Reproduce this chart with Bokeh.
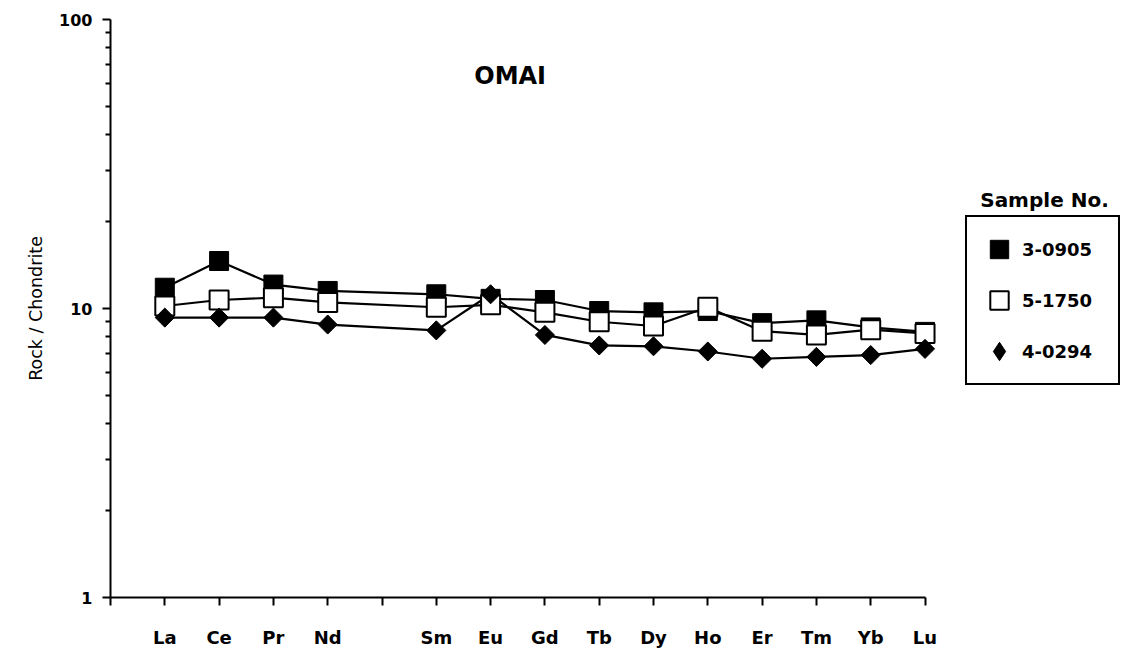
import numpy as np
from bokeh.plotting import figure
from bokeh.models import (Range1d, FixedTicker, CustomJSTickFormatter, BasicTickFormatter,
                          Legend, LegendItem, Label)
from bokeh.embed import file_html
from bokeh.resources import INLINE

# ---- data -------------------------------------------------------------
# axis slots (Pm position left empty, as in the original diagram)
slots = ["La", "Ce", "Pr", "Nd", "", "Sm", "Eu", "Gd", "Tb", "Dy", "Ho", "Er", "Tm", "Yb", "Lu"]
elements = ["La", "Ce", "Pr", "Nd", "Sm", "Eu", "Gd", "Tb", "Dy", "Ho", "Er", "Tm", "Yb", "Lu"]

s_3_0905 = [11.8, 14.6, 12.1, 11.5, 11.2, 10.8, 10.7, 9.8, 9.7, 9.8, 8.9, 9.1, 8.6, 8.3]
s_5_1750 = [10.2, 10.7, 10.9, 10.5, 10.1, 10.3, 9.7, 9.0, 8.7, 10.1, 8.35, 8.1, 8.45, 8.2]
s_4_0294 = [9.3, 9.3, 9.3, 8.8, 8.4, 11.2, 8.1, 7.45, 7.4, 7.1, 6.7, 6.8, 6.9, 7.25]

sample_names = ["3-0905", "5-1750", "4-0294"]
y_major = [1, 10, 100]
title_text = "OMAI"
y_label = "Rock / Chondrite"
legend_title = "Sample No."

xpos = [slots.index(e) + 1 for e in elements]

FONT = "DejaVu Sans"

p = figure(width=1120, height=650, x_range=Range1d(0, 18.6), y_range=Range1d(1, 100),
           y_axis_type="log", output_backend="svg", toolbar_location=None, title=None,
           min_border_left=110, min_border_right=0, min_border_top=19, min_border_bottom=52)

p.outline_line_color = None
p.xgrid.visible = False
p.ygrid.visible = False
p.background_fill_color = "white"
p.border_fill_color = "white"

# ---- lines -------------------------------------------------------------
for ys in (s_3_0905, s_5_1750, s_4_0294):
    p.line(xpos, ys, line_color="black", line_width=2.2)

# ---- markers -----------------------------------------------------------
r1 = p.scatter(xpos, s_3_0905, marker="square", size=19, fill_color="black",
               line_color="black", line_width=1)
r2 = p.scatter(xpos, s_5_1750, marker="square", size=19, fill_color="white",
               line_color="black", line_width=2)
r3 = p.scatter(xpos, s_4_0294, marker="square", angle=np.pi / 4, size=13.5,
               fill_color="black", line_color="black", line_width=1)
# legend swatch for the diamond series (legend swatches ignore rotation)
r3_key = p.scatter(xpos, s_4_0294, marker="diamond", size=19, fill_color="black",
                   line_color="black", line_width=1, visible=False)

# ---- axes --------------------------------------------------------------
xa = p.xaxis[0]
xa.ticker = FixedTicker(ticks=list(range(0, len(slots) + 1)))
xa.formatter = CustomJSTickFormatter(args=dict(names=slots), code="""
    const i = Math.round(tick);
    return (i >= 1 && i <= names.length) ? names[i-1] : '';
""")
xa.bounds = (0, len(slots))
xa.axis_line_width = 2
xa.major_tick_line_width = 2
xa.major_tick_out = 8
xa.major_tick_in = 0
xa.minor_tick_line_color = None
xa.major_label_standoff = 21
xa.major_label_text_font = FONT
xa.major_label_text_font_style = "bold"
xa.major_label_text_font_size = "18px"
xa.major_label_text_color = "black"

ya = p.yaxis[0]
ya.ticker = FixedTicker(ticks=y_major,
                        minor_ticks=[k * 10 ** d for d in (0, 1) for k in range(2, 10)])
ya.formatter = BasicTickFormatter()
ya.axis_line_width = 2
ya.major_tick_line_width = 2
ya.minor_tick_line_width = 2
ya.major_tick_out = 8
ya.major_tick_in = 0
ya.minor_tick_out = 5
ya.minor_tick_in = 0
ya.major_label_standoff = 10
ya.major_label_text_font = FONT
ya.major_label_text_font_style = "bold"
ya.major_label_text_font_size = "16px"
ya.major_label_text_color = "black"
ya.axis_label = y_label
ya.axis_label_text_font = FONT
ya.axis_label_text_font_style = "normal"
ya.axis_label_text_font_size = "17.5px"
ya.axis_label_text_color = "black"
ya.axis_label_standoff = 10

# ---- title -------------------------------------------------------------
p.add_layout(Label(x=7.36, y=64, text=title_text, text_align="center",
                   text_baseline="middle", text_font=FONT, text_font_style="bold",
                   text_font_size="24px", text_color="black"))

# ---- legend ------------------------------------------------------------
p.add_layout(Label(x=17.2, y=23.8, text=legend_title, text_align="center",
                   text_baseline="middle", text_font=FONT, text_font_style="bold",
                   text_font_size="20px", text_color="black"))

legend = Legend(items=[LegendItem(label=sample_names[0], renderers=[r1]),
                       LegendItem(label=sample_names[1], renderers=[r2]),
                       LegendItem(label=sample_names[2], renderers=[r3_key])],
                location=(855, 212), orientation="vertical", click_policy="none",
                glyph_width=46, glyph_height=46, label_height=22, label_width=87,
                label_standoff=0, spacing=5, padding=9, margin=0,
                border_line_color="black", border_line_width=2, border_line_alpha=1,
                background_fill_color="white", background_fill_alpha=1,
                label_text_font=FONT, label_text_font_style="bold",
                label_text_font_size="18px", label_text_color="black")
p.add_layout(legend)

open("out.html", "w").write(file_html(p, INLINE))
